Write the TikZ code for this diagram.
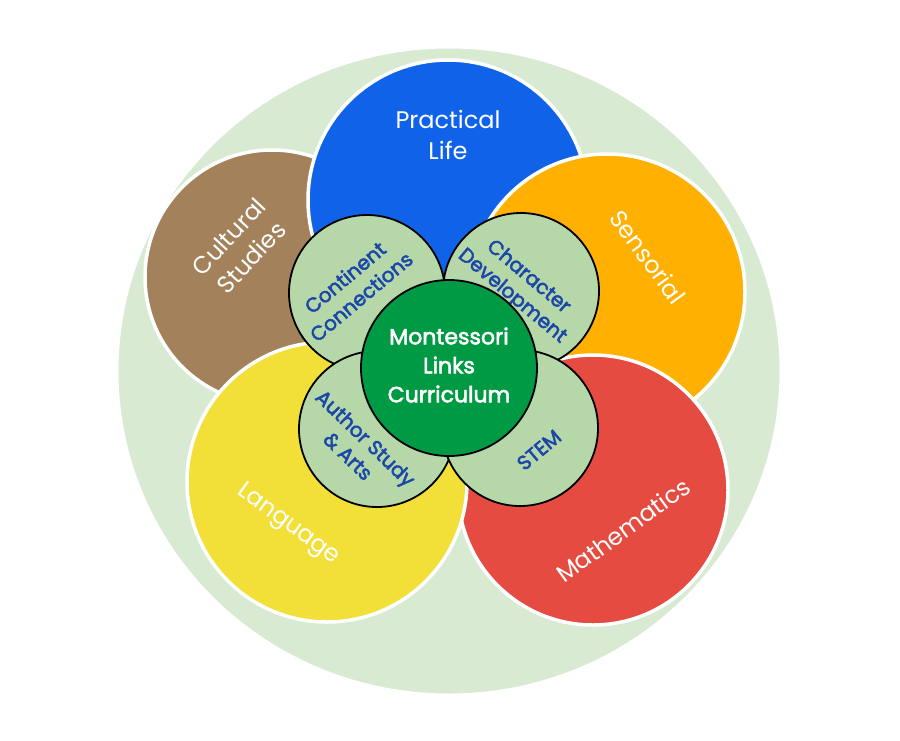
\documentclass[tikz,border=0pt]{standalone}
\usepackage{fontspec}
\setmainfont{Poppins}
\newfontfamily\linkfont[FakeBold=2.5]{Poppins}
\usepackage{tikz}
\usetikzlibrary{shapes.geometric}

\definecolor{ringgreen}{HTML}{D9EAD3}
\definecolor{lifeblue}{HTML}{1063E9}
\definecolor{culturebrown}{HTML}{A3815A}
\definecolor{sensorange}{HTML}{FFB000}
\definecolor{langyellow}{HTML}{F2DF38}
\definecolor{mathred}{HTML}{E54B40}
\definecolor{linkgreen}{HTML}{B6D7A8}
\definecolor{coregreen}{HTML}{009A44}
\definecolor{linkblue}{HTML}{1B48A8}

\begin{document}
\begin{tikzpicture}[
  x=1pt, y=-1pt,
  subject/.style={circle, draw=white, line width=3.5pt, minimum size=#1, inner sep=0pt},
  link/.style={circle, draw=black, line width=1.8pt, fill=linkgreen, minimum size=#1, inner sep=0pt},
  bigtext/.style={text=white, align=center, font=\fontsize{24}{31}\selectfont},
  linktext/.style={text=linkblue, align=center, font=\linkfont\fontsize{20}{25}\selectfont},
  coretext/.style={text=white, align=center, font=\linkfont\fontsize{22}{29}\selectfont}
]

\fill[white] (0,0) rectangle (900,740);
\useasboundingbox (0,0) rectangle (900,740);

% Outer ring
\node[ellipse, draw=white, line width=3pt, fill=ringgreen, minimum width=664pt, minimum height=648pt] (ring) at (449,371) {};

% --- Subject areas ---
\node[subject=254pt, fill=culturebrown] (culture) at (272,277) {};
\node[subject=280pt, fill=lifeblue] (life) at (448,200) {};
\node[subject=276pt, fill=sensorange] (senses) at (607,292) {};
\node[subject=270pt, fill=mathred] (maths) at (593,490) {};
\node[subject=280pt, fill=langyellow] (lang) at (327,482) {};

\node[bigtext] (lifetxt) at (448,135) {Practical\\Life};
\node[bigtext, rotate=47] (culturetxt) at (240,247) {Cultural\\Studies};
\node[bigtext, rotate=-54] (sensestxt) at (648,257) {Sensorial};
\node[bigtext, rotate=-36] (langtxt) at (288,525) {Language};
\node[bigtext, rotate=36] (mathstxt) at (623,530) {Mathematics};

% --- Links ---
\node[link=156pt] (continent) at (367,293) {};
\node[link=156pt] (character) at (521,291) {};
\node[link=156pt] (author) at (377,429) {};
\node[link=156pt] (stem) at (520,428) {};

\node[linktext, rotate=40] (continenttxt) at (353,287) {Continent\\Connections};
\node[linktext, rotate=-40] (charactertxt) at (520,287) {Character\\Development};
\node[linktext, rotate=-44] (authortxt) at (357,447) {Author Study\\\& Arts};
\node[linktext, rotate=40] (stemtxt) at (539,450) {STEM};

% Core
\node[circle, draw=black, line width=1.8pt, fill=coregreen, minimum size=176pt, inner sep=0pt] (core) at (449,368) {};
\node[coretext] (coretxt) at (449,365) {Montessori\\Links\\Curriculum};

\end{tikzpicture}
\end{document}
